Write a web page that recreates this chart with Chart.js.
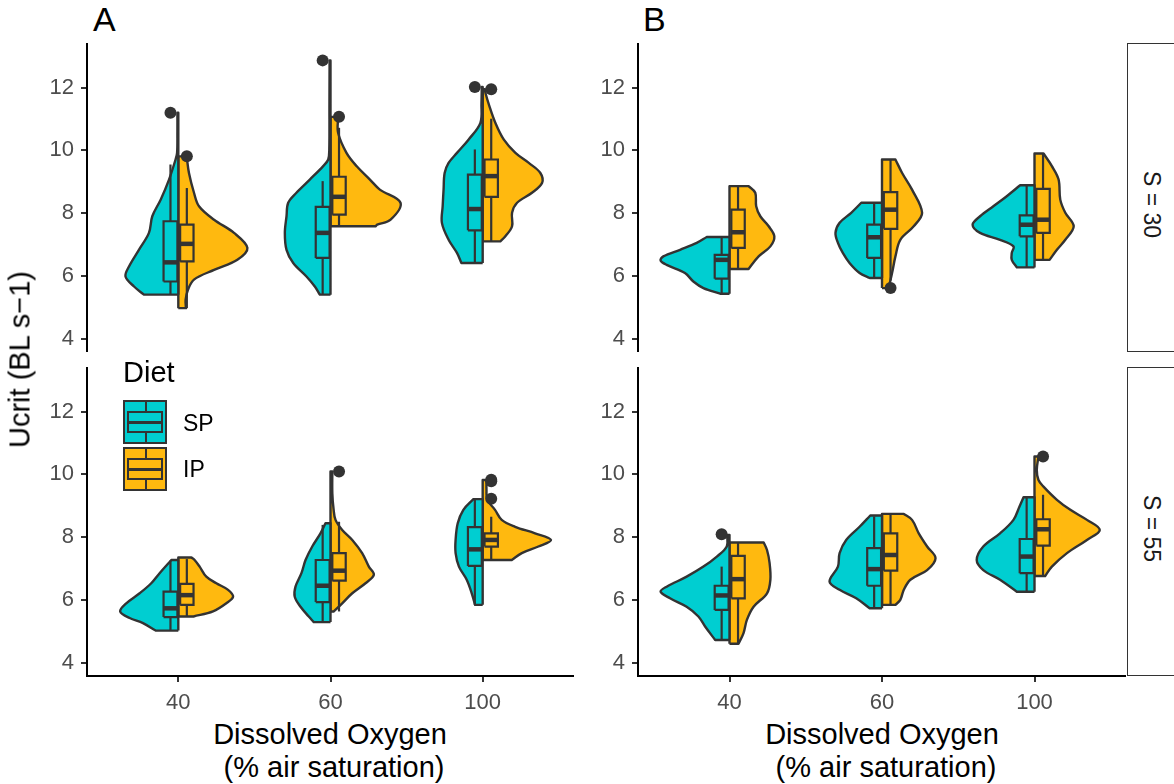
<!DOCTYPE html>
<html>
<head>
<meta charset="utf-8">
<script src="https://cdn.jsdelivr.net/npm/chart.js@4.4.1/dist/chart.umd.min.js"></script>
<style>
  body { margin: 0; width: 1174px; height: 784px; overflow: hidden; position: relative; background: #fff;
         font-family: "Liberation Sans", Arial, sans-serif; color: #000; }
  canvas, .txt, .key, .strip { position: absolute; }
  .txt { white-space: nowrap; line-height: 1; }
  .key { box-sizing: border-box; width: 44px; height: 44px; border: 2px solid #333; }
  .key div { position: absolute; box-sizing: border-box; }
  .strip { box-sizing: border-box; width: 60px; height: 309px; border: 1.5px solid #333; background: #fff; }
</style>
</head>
<body>
<canvas id="a30" width="574" height="309" style="left:0;top:43px"></canvas>
<canvas id="a55" width="574" height="349" style="left:0;top:367px"></canvas>
<canvas id="b30" width="538" height="309" style="left:588px;top:43px"></canvas>
<canvas id="b55" width="538" height="349" style="left:588px;top:367px"></canvas>

<div class="txt" style="left:93px;top:2px;font-size:34px">A</div>
<div class="txt" style="left:643px;top:2px;font-size:34px">B</div>

<div class="txt" style="left:-180px;top:345px;width:400px;text-align:center;font-size:29px;transform:rotate(-90deg)">Ucrit (BL s−1)</div>

<div class="txt" style="left:130px;top:718px;width:400px;text-align:center;font-size:29px;line-height:33px">Dissolved Oxygen<br>&nbsp;(% air saturation)</div>
<div class="txt" style="left:682px;top:718px;width:400px;text-align:center;font-size:29px;line-height:33px">Dissolved Oxygen<br>&nbsp;(% air saturation)</div>

<div class="strip" style="left:1127px;top:43px"></div>
<div class="strip" style="left:1127px;top:367px"></div>
<div class="txt" style="left:1051px;top:193px;width:200px;text-align:center;font-size:23px;color:#1a1a1a;transform:rotate(90deg)">S = 30</div>
<div class="txt" style="left:1051px;top:517px;width:200px;text-align:center;font-size:23px;color:#1a1a1a;transform:rotate(90deg)">S = 55</div>

<!-- legend -->
<div class="txt" style="left:123px;top:358px;font-size:29px">Diet</div>
<div class="key" style="left:123px;top:400px;background:#00CED1">
  <div style="left:20px;top:0;width:2px;height:10px;background:#333"></div>
  <div style="left:20px;top:30px;width:2px;height:10px;background:#333"></div>
  <div style="left:2px;top:9px;width:36px;height:22px;border:2px solid #333"></div>
  <div style="left:2px;top:18.5px;width:36px;height:3px;background:#333"></div>
</div>
<div class="key" style="left:123px;top:447px;background:#FFB90F">
  <div style="left:20px;top:0;width:2px;height:10px;background:#333"></div>
  <div style="left:20px;top:30px;width:2px;height:10px;background:#333"></div>
  <div style="left:2px;top:9px;width:36px;height:22px;border:2px solid #333"></div>
  <div style="left:2px;top:18.5px;width:36px;height:3px;background:#333"></div>
</div>
<div class="txt" style="left:183px;top:412px;font-size:23px">SP</div>
<div class="txt" style="left:183px;top:458px;font-size:23px">IP</div>

<script>
const doLevels = ['40', '60', '100'];
const dietNames = ['SP', 'IP'];
const yTicks = [4, 6, 8, 10, 12];

// violin outlines per DO level: [Ucrit, half width in category units]
const vioA30SP = [
  [[5.40,0.226],[5.66,0.291],[5.98,0.347],[6.30,0.324],[6.83,0.259],[7.37,0.193],[7.90,0.171],[8.43,0.116],[9.07,0.061],[9.71,0.018],[9.92,0.008],[10.6,0.006],[11.20,0.006]],
  [[5.40,0.070],[5.66,0.103],[5.98,0.158],[6.41,0.245],[6.83,0.289],[7.37,0.300],[7.90,0.289],[8.33,0.278],[8.65,0.224],[9.07,0.136],[9.50,0.048],[9.71,0.015],[10.03,0.008],[11.5,0.007],[12.87,0.006]],
  [[6.41,0.140],[6.73,0.169],[7.15,0.224],[7.69,0.268],[8.22,0.263],[8.75,0.257],[9.28,0.250],[9.60,0.224],[9.92,0.169],[10.35,0.092],[10.88,0.015],[11.5,0.008],[12.02,0.006]]
];
const vioA30IP = [
  [[4.97,0.050],[5.24,0.048],[5.56,0.064],[5.88,0.103],[6.19,0.235],[6.51,0.388],[6.89,0.454],[7.37,0.366],[7.79,0.235],[8.22,0.136],[8.65,0.103],[9.28,0.070],[9.81,0.055]],
  [[7.58,0.296],[7.63,0.307],[7.79,0.395],[8.33,0.460],[8.75,0.324],[9.07,0.259],[9.50,0.171],[9.92,0.105],[10.56,0.050],[11.07,0.050]],
  [[7.10,0.116],[7.26,0.149],[7.58,0.193],[8.01,0.193],[8.33,0.226],[8.65,0.324],[8.96,0.390],[9.28,0.379],[9.60,0.303],[9.92,0.215],[10.35,0.138],[10.88,0.083],[11.41,0.044],[11.84,0.018],[11.95,0.015]]
];
const vioA55SP = [
  [[5.02,0.149],[5.26,0.232],[5.42,0.320],[5.63,0.382],[5.89,0.342],[6.21,0.254],[6.53,0.178],[6.85,0.123],[7.27,0.046]],
  [[5.29,0.110],[5.47,0.143],[5.78,0.197],[6.10,0.235],[6.42,0.230],[6.85,0.191],[7.27,0.164],[7.70,0.120],[8.12,0.066],[8.44,0.033]],
  [[5.84,0.050],[6.21,0.072],[6.64,0.105],[7.06,0.156],[7.49,0.178],[7.91,0.178],[8.44,0.164],[8.87,0.127],[9.21,0.061]]
];
const vioA55IP = [
  [[5.47,0.100],[5.63,0.228],[5.89,0.316],[6.10,0.360],[6.32,0.327],[6.53,0.250],[6.74,0.184],[7.06,0.140],[7.27,0.107],[7.35,0.086]],
  [[5.63,0.022],[5.89,0.077],[6.21,0.143],[6.53,0.230],[6.80,0.285],[7.06,0.252],[7.49,0.208],[7.91,0.143],[8.23,0.077],[8.55,0.033],[8.90,0.020],[9.40,0.012],[10.09,0.012]],
  [[7.27,0.191],[7.49,0.257],[7.70,0.366],[7.91,0.449],[8.12,0.344],[8.33,0.213],[8.55,0.125],[8.87,0.081],[9.19,0.030],[9.50,0.025],[9.82,0.025]]
];
const vioB30SP = [
  [[5.43,0.061],[5.61,0.171],[5.82,0.237],[6.09,0.292],[6.35,0.412],[6.49,0.452],[6.62,0.434],[6.83,0.324],[7.05,0.215],[7.24,0.149]],
  [[5.93,0.081],[6.09,0.147],[6.41,0.213],[6.73,0.257],[7.05,0.289],[7.37,0.305],[7.69,0.278],[8.01,0.202],[8.33,0.136]],
  [[6.27,0.116],[6.51,0.149],[6.73,0.149],[6.94,0.138],[7.15,0.226],[7.37,0.357],[7.63,0.406],[7.90,0.357],[8.22,0.270],[8.54,0.182],[8.89,0.094]]
];
const vioB30IP = [
  [[6.22,0.125],[6.62,0.191],[6.94,0.268],[7.26,0.294],[7.58,0.257],[7.90,0.202],[8.22,0.175],[8.65,0.169],[8.86,0.125]],
  [[5.61,0.030],[5.66,0.044],[6.09,0.066],[6.62,0.088],[7.15,0.120],[7.58,0.208],[8.01,0.263],[8.75,0.197],[9.28,0.132],[9.71,0.088]],
  [[6.51,0.099],[6.83,0.147],[7.15,0.202],[7.58,0.257],[8.01,0.202],[8.43,0.169],[9.07,0.158],[9.50,0.114],[9.90,0.059]]
];
const vioB55SP = [
  [[4.72,0.094],[5.15,0.160],[5.47,0.204],[5.78,0.281],[6.05,0.390],[6.26,0.452],[6.42,0.412],[6.74,0.281],[7.06,0.171],[7.38,0.083],[7.70,0.018],[8.07,0.015]],
  [[5.73,0.081],[6.05,0.169],[6.32,0.278],[6.58,0.344],[7.06,0.289],[7.49,0.278],[7.91,0.235],[8.33,0.147],[8.69,0.077]],
  [[6.26,0.116],[6.64,0.226],[6.95,0.336],[7.27,0.379],[7.70,0.336],[8.12,0.226],[8.55,0.138],[8.97,0.099],[9.27,0.072]]
];
const vioB55IP = [
  [[4.60,0.059],[4.94,0.092],[5.36,0.114],[5.78,0.158],[6.21,0.246],[6.64,0.268],[7.17,0.263],[7.59,0.246],[7.83,0.224]],
  [[5.84,0.088],[6.00,0.120],[6.32,0.143],[6.64,0.186],[6.95,0.296],[7.33,0.351],[7.70,0.296],[8.12,0.241],[8.55,0.197],[8.74,0.143]],
  [[6.76,0.070],[7.06,0.114],[7.49,0.213],[7.91,0.344],[8.23,0.428],[8.55,0.344],[8.87,0.235],[9.19,0.147],[9.61,0.059],[9.82,0.026],[10.14,0.015],[10.57,0.026]]
];

// boxplot stats per DO level: [lower whisker, Q1, median, Q3, upper whisker]
const boxA30SP = [[5.40, 5.82, 6.43, 7.74, 9.55], [5.40, 6.57, 7.37, 8.20, 9.02], [6.41, 7.45, 8.13, 9.23, 10.03]];
const boxA30IP = [[4.97, 6.46, 7.02, 7.63, 8.80], [7.58, 7.95, 8.52, 9.16, 10.72], [7.10, 8.52, 9.18, 9.71, 11.01]];
const boxA55SP = [[5.02, 5.45, 5.73, 6.26, 7.25], [5.29, 5.93, 6.45, 7.27, 8.39], [5.84, 7.08, 7.61, 8.32, 9.21]];
const boxA55IP = [[5.47, 5.84, 6.15, 6.51, 7.30], [5.63, 6.61, 6.93, 7.49, 8.49], [7.27, 7.70, 7.91, 8.12, 8.65]];
const boxB30SP = [[5.43, 5.91, 6.51, 6.67, 7.24], [5.93, 6.57, 7.23, 7.63, 8.33], [6.27, 7.26, 7.63, 7.93, 8.89]];
const boxB30IP = [[6.22, 6.89, 7.39, 8.11, 8.86], [5.85, 7.50, 8.11, 8.67, 9.71], [6.51, 7.37, 7.79, 8.77, 9.90]];
const boxB55SP = [[4.72, 5.68, 6.14, 6.45, 7.06], [5.73, 6.45, 6.98, 7.65, 8.66], [6.26, 6.85, 7.38, 7.94, 9.27]];
const boxB55IP = [[4.60, 6.05, 6.66, 7.40, 7.83], [5.84, 6.93, 7.43, 8.12, 8.74], [6.76, 7.73, 8.25, 8.57, 9.35]];

// outliers per DO level
const outA30SP = [[11.20], [12.87], [12.02]];
const outA30IP = [[9.81], [11.07], [11.95]];
const outA55SP = [[], [], []];
const outA55IP = [[], [10.09], [9.83, 9.78, 9.22]];
const outB30SP = [[], [], []];
const outB30IP = [[], [5.61], []];
const outB55SP = [[8.09], [], []];
const outB55IP = [[], [], [10.57]];

const LINE = '#333333';
const FILL = { SP: '#00CED1', IP: '#FFB90F' };
const BOX_SPAN = { SP: [-0.097, -0.006], IP: [0.012, 0.100] };
const FONT = 'Liberation Sans, Arial, sans-serif';

// closed half-violin: flat edge on the category line, profile on one side
function violinPath(prof, i, side) {
  const first = prof[0][0], last = prof[prof.length - 1][0];
  const pts = [{x: i, y: first}, {x: i, y: first}];
  prof.forEach(([v, w], k) => {
    pts.push({x: i + side * w, y: v});
    if (k === 0 || k === prof.length - 1) pts.push({x: i + side * w, y: v});
  });
  pts.push({x: i, y: last}, {x: i, y: last}, {x: i, y: first});
  return pts;
}

function panelDatasets(vios, boxes, outs) {
  const sets = [];
  dietNames.forEach((diet, d) => {
    const side = d === 0 ? -1 : 1;
    doLevels.forEach((lvl, k) => {
      const i = k + 1;
      const [lo, q1, med, q3, hi] = boxes[d][k];
      const x0 = i + BOX_SPAN[diet][0], x1 = i + BOX_SPAN[diet][1], xc = (x0 + x1) / 2;
      sets.push({ data: violinPath(vios[d][k], i, side), showLine: true, fill: 'shape',
        backgroundColor: FILL[diet], borderColor: LINE, borderWidth: 2.4, borderJoinStyle: 'round',
        pointRadius: 0, tension: 0.35, order: 4 });
      sets.push({ data: [{x: xc, y: lo}, {x: xc, y: hi}], showLine: true,
        borderColor: LINE, borderWidth: 2.2, pointRadius: 0, order: 3 });
      sets.push({ data: [{x: x0, y: q1}, {x: x0, y: q3}, {x: x1, y: q3}, {x: x1, y: q1}, {x: x0, y: q1}],
        showLine: true, fill: 'shape', backgroundColor: FILL[diet], borderColor: LINE, borderWidth: 2.2,
        borderJoinStyle: 'miter', pointRadius: 0, tension: 0, order: 2 });
      sets.push({ data: [{x: x0, y: med}, {x: x1, y: med}], showLine: true,
        borderColor: LINE, borderWidth: 4.5, pointRadius: 0, order: 1 });
      if (outs[d][k].length) {
        sets.push({ data: outs[d][k].map(v => ({x: xc, y: v})), showLine: false,
          pointRadius: 6, pointBackgroundColor: LINE, pointBorderWidth: 0, order: 0 });
      }
    });
  });
  return sets;
}

function panelOptions(yWidth, showX) {
  const tickFont = { family: FONT, size: 22 };
  const grid = { display: true, drawOnChartArea: false, drawTicks: true, tickLength: 6, color: LINE, lineWidth: 2 };
  return {
    responsive: false, animation: false, events: [],
    layout: { padding: 0, autoPadding: false },
    plugins: { legend: { display: false }, tooltip: { enabled: false } },
    scales: {
      x: {
        type: 'linear', min: 0.4, max: 3.6, display: showX,
        afterBuildTicks: s => { s.ticks = doLevels.map((_, k) => ({ value: k + 1 })); },
        afterFit: s => { s.height = showX ? 40 : 0; s.paddingLeft = 0; s.paddingRight = 0; },
        ticks: { callback: v => doLevels[v - 1], color: '#4D4D4D', font: tickFont, padding: 8, maxRotation: 0, autoSkip: false },
        grid: grid,
        border: { display: true, color: '#000', width: 2 }
      },
      y: {
        type: 'linear', min: 3.572, max: 13.424,
        afterBuildTicks: s => { s.ticks = yTicks.map(v => ({ value: v })); },
        afterFit: s => { s.width = yWidth; s.paddingTop = 0; s.paddingBottom = 0; },
        ticks: { color: '#4D4D4D', font: tickFont, padding: 7 },
        grid: grid,
        border: { display: true, color: '#000', width: 2 }
      }
    }
  };
}

function drawPanel(id, vios, boxes, outs, yWidth, showX) {
  new Chart(document.getElementById(id), {
    type: 'scatter',
    data: { datasets: panelDatasets(vios, boxes, outs) },
    options: panelOptions(yWidth, showX)
  });
}

drawPanel('a30', [vioA30SP, vioA30IP], [boxA30SP, boxA30IP], [outA30SP, outA30IP], 87, false);
drawPanel('a55', [vioA55SP, vioA55IP], [boxA55SP, boxA55IP], [outA55SP, outA55IP], 87, true);
drawPanel('b30', [vioB30SP, vioB30IP], [boxB30SP, boxB30IP], [outB30SP, outB30IP], 50, false);
drawPanel('b55', [vioB55SP, vioB55IP], [boxB55SP, boxB55IP], [outB55SP, outB55IP], 50, true);
</script>
</body>
</html>
